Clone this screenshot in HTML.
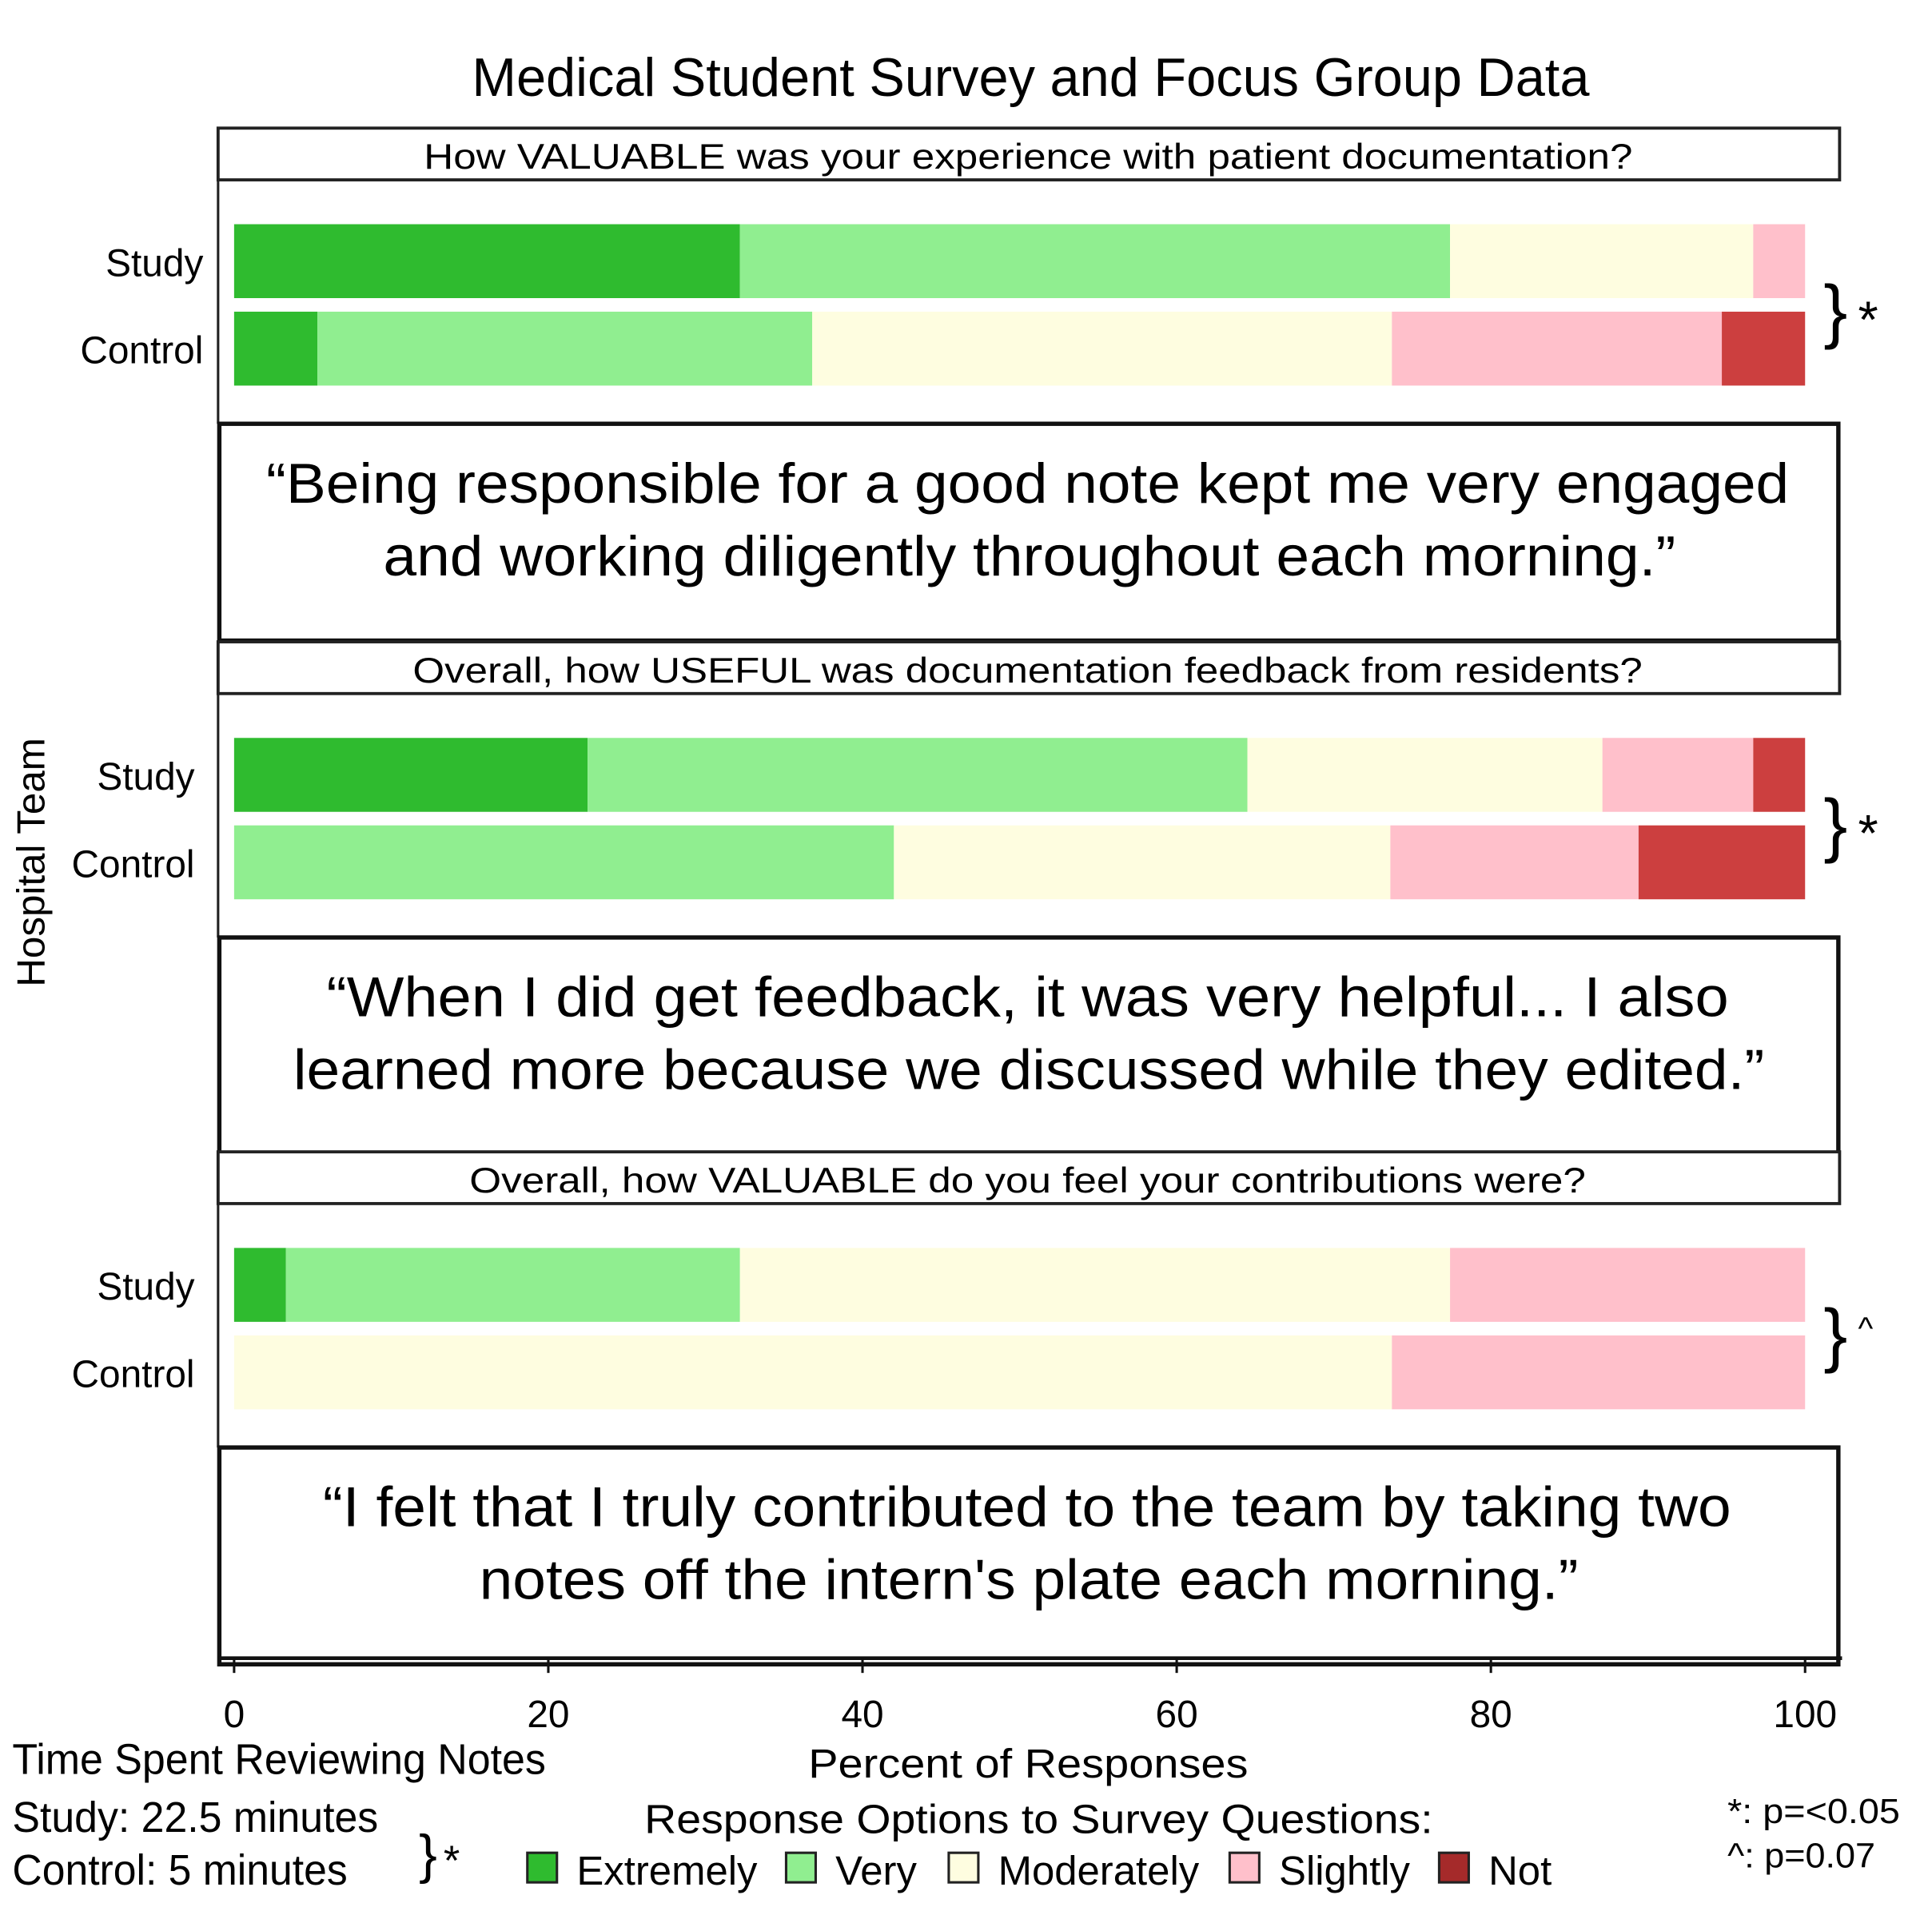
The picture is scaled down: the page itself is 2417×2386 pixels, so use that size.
<!DOCTYPE html>
<html><head><meta charset="utf-8"><style>
html,body{margin:0;padding:0;background:#fff}
svg{display:block}
text{font-family:"Liberation Sans",sans-serif;fill:#000}
</style></head><body>
<svg id="chart" width="2417" height="2386" viewBox="0 0 1568 1548" preserveAspectRatio="none" xmlns="http://www.w3.org/2000/svg">
<rect width="1568" height="1548" fill="#fff"/>
<text x="383" y="78" font-size="44" textLength="907" lengthAdjust="spacingAndGlyphs">Medical Student Survey and Focus Group Data</text>
<text transform="translate(36,700) rotate(-90)" text-anchor="middle" font-size="32">Hospital Team</text>
<g id="panels"></g>
<g id="axis"></g>
<text x="656" y="1443" font-size="33" textLength="357" lengthAdjust="spacingAndGlyphs">Percent of Responses</text>
<text x="10" y="1440" font-size="35" textLength="433" lengthAdjust="spacingAndGlyphs">Time Spent Reviewing Notes</text>
<text x="10" y="1487" font-size="35" textLength="297" lengthAdjust="spacingAndGlyphs">Study: 22.5 minutes</text>
<text x="10" y="1530" font-size="35" textLength="272" lengthAdjust="spacingAndGlyphs">Control: 5 minutes</text>
<text x="340" y="1520" font-size="44">}</text>
<text x="360" y="1522" font-size="34">*</text>
<text x="523" y="1488" font-size="33" textLength="640" lengthAdjust="spacingAndGlyphs">Response Options to Survey Questions:</text>
<g id="legend"></g>
<text x="1402" y="1480" font-size="28" textLength="140" lengthAdjust="spacingAndGlyphs">*: p=&lt;0.05</text>
<text x="1402" y="1516" font-size="28" textLength="120" lengthAdjust="spacingAndGlyphs">^: p=0.07</text>
</svg>
<script>
const NS="http://www.w3.org/2000/svg";
const categories=["Extremely","Very","Moderately","Slightly","Not"];
const colors=["#2fbb2f","#90ee90","#fefde0","#ffc0cb","#cc3f3f"];
const legendColors=["#2fbb2f","#90ee90","#fefde0","#ffc0cb","#a52a2a"];
const groups=["Study","Control"];
const q1Study=[32.2,45.2,19.3,3.3,0];
const q1Control=[5.3,31.5,36.9,21,5.3];
const q2Study=[22.5,42,22.6,9.6,3.3];
const q2Control=[0,42,31.6,15.8,10.6];
const q3Study=[3.3,28.9,45.2,22.6,0];
const q3Control=[0,0,73.7,26.3,0];
const questions=["How VALUABLE was your experience with patient documentation?","Overall, how USEFUL was documentation feedback from residents?","Overall, how VALUABLE do you feel your contributions were?"];
const significance=["*","*","^"];
const quotes=[["\u201cBeing responsible for a good note kept me very engaged","and working diligently throughout each morning.\u201d"],["\u201cWhen I did get feedback, it was very helpful...  I also","learned more because we discussed while they edited.\u201d"],["\u201cI felt that I truly contributed to the team by taking two","notes off the intern's plate each morning.\u201d"]];
const ticks=[0,20,40,60,80,100];
const data=[[q1Study,q1Control],[q2Study,q2Control],[q3Study,q3Control]];
const x=v=>190+v*12.75;
function el(t,a,p){const e=document.createElementNS(NS,t);for(const k in a)e.setAttribute(k,a[k]);p.appendChild(e);return e;}
const panels=document.getElementById('panels');
const panelTop=[104,521,935];
const headW=[[344,981],[335,998],[381,906]];
const quoteW=[[[216,1236],[311,1049]],[[265,1138],[238,1194]],[[262,1143],[389,892]]];
const labelR=[165,158,158];
data.forEach((pd,i)=>{
  const t=panelTop[i];
  const g=el('g',{},panels);
  
  
  const hb=el('rect',{x:177,y:t,width:1316,height:42,fill:'#fff',stroke:'#222','stroke-width':2.5},g);
  
  
  const ht=el('text',{x:headW[i][0],y:t+33,'font-size':29,textLength:headW[i][1],lengthAdjust:'spacingAndGlyphs'},g);
  ht.textContent=questions[i];
  
  
  el('line',{x1:177,y1:t+42,x2:177,y2:t+240,stroke:'#222','stroke-width':2},g);
  pd.forEach((vals,r)=>{
    const y0=t+78+r*71;
    let acc=0;
    vals.forEach((v,c)=>{
      if(v>0){
        const b=el('rect',{x:x(acc),y:y0,width:x(acc+v)-x(acc),height:60,fill:colors[c]},g);
        
        
      }
      acc+=v;
    });
    const lt=el('text',{x:labelR[i],y:y0+42,'font-size':31,'text-anchor':'end'},g);
    lt.textContent=groups[r];
    
    
  });
  const br=el('text',{x:1480,y:t+168,'font-size':58},g);
  br.textContent='}';
  
  
  const st=el('text',{x:1508,y:t+(significance[i]=='*'?170:152),'font-size':significance[i]=='*'?42:26},g);
  st.textContent=significance[i];
  
  
  const qy=t+240;
  const qb=el('rect',{x:178,y:qy,width:1314,height:176,fill:'#fff',stroke:'#111','stroke-width':3.5},g);
  
  
  quotes[i].forEach((line,k)=>{
    const q=el('text',{x:quoteW[i][k][0],y:qy+64+k*59,'font-size':46,textLength:quoteW[i][k][1],lengthAdjust:'spacingAndGlyphs'},g);
    q.textContent=line;
    
    
  });
});
const ax=document.getElementById('axis');
el('line',{x1:177,y1:1346,x2:1495,y2:1346,stroke:'#111','stroke-width':3},ax);
ticks.forEach(v=>{
  el('line',{x1:x(v),y1:1346,x2:x(v),y2:1358,stroke:'#111','stroke-width':2},ax);
  const tl=el('text',{x:x(v),y:1402,'font-size':31,'text-anchor':'middle'},ax);
  tl.textContent=v;
  
  
});
const lg=document.getElementById('legend');
const legX=[428,638,770,998,1168];
categories.forEach((c,k)=>{
  const r=el('rect',{x:legX[k],y:1504,width:24,height:24,fill:legendColors[k],stroke:'#222','stroke-width':2},lg);
  
  
  const t=el('text',{x:legX[k]+40,y:1530,'font-size':33},lg);
  t.textContent=c;
  
  
});
</script>
</body></html>
